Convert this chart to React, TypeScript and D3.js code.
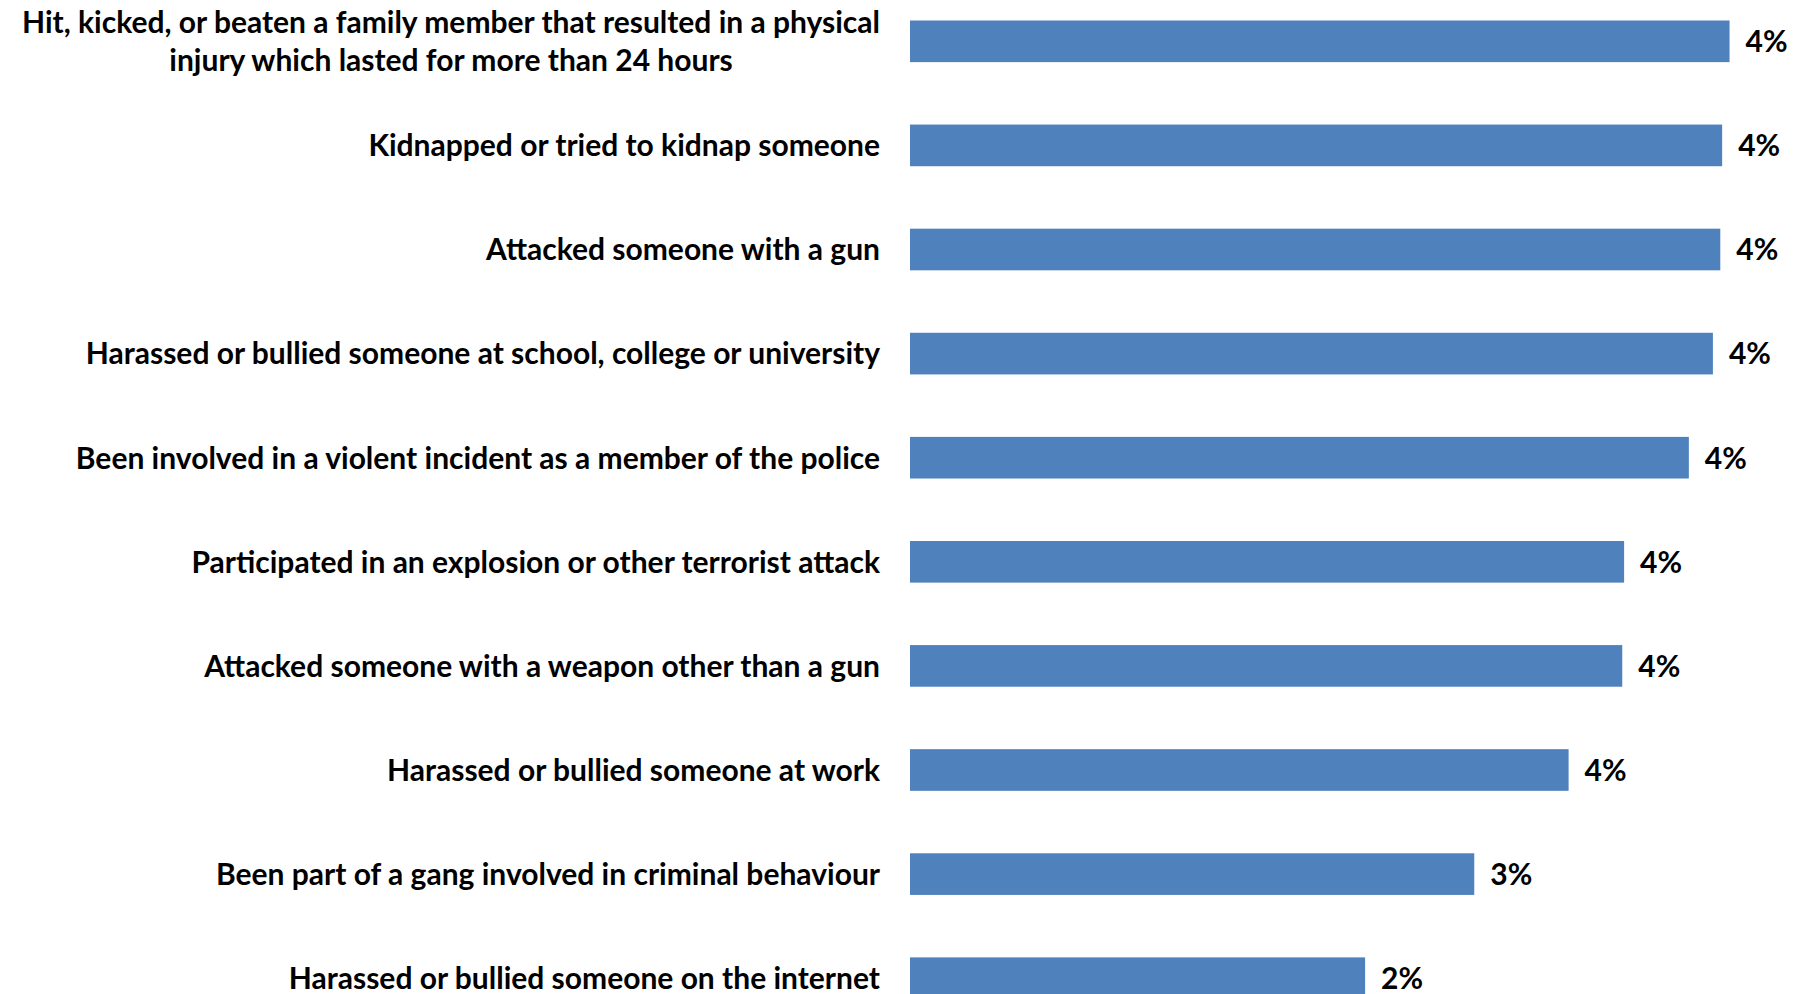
import React, { useEffect, useRef } from "react";
import * as d3 from "d3";

// Category labels (top to bottom), a "\n" splits the two-line label
const categories = [
  "Hit, kicked, or beaten a family member that resulted in a physical\ninjury which lasted for more than 24 hours",
  "Kidnapped or tried to kidnap someone",
  "Attacked someone with a gun",
  "Harassed or bullied someone at school, college or university",
  "Been involved in a violent incident as a member of the police",
  "Participated in an explosion or other terrorist attack",
  "Attacked someone with a weapon other than a gun",
  "Harassed or bullied someone at work",
  "Been part of a gang involved in criminal behaviour",
  "Harassed or bullied someone on the internet",
];

// Percent values
const values = [4.43, 4.39, 4.38, 4.34, 4.21, 3.86, 3.85, 3.56, 3.05, 2.46];

const W = 1800;
const H = 994;
const barColor = "#4F81BD";
const fontFamily = "Lato, 'Open Sans', sans-serif";

const App: React.FC = () => {
  const svgRef = useRef<SVGSVGElement | null>(null);

  useEffect(() => {
    document.body.style.margin = "0";
    const svg = d3.select(svgRef.current);
    svg.selectAll("*").remove();

    const data = categories.map((c, i) => ({ label: c, value: values[i] }));

    const x = d3.scaleLinear().domain([0, 5]).range([910, 910 + 925]);

    const y = d3
      .scaleBand()
      .domain(categories)
      .range([-10.75, 1030.25])
      .paddingInner(0.6)
      .paddingOuter(0.3);

    // bars
    svg
      .selectAll(".bar")
      .data(data)
      .enter()
      .append("rect")
      .attr("class", "bar")
      .attr("x", x(0))
      .attr("y", (d) => y(d.label) as number)
      .attr("width", (d) => x(d.value) - x(0))
      .attr("height", y.bandwidth())
      .attr("fill", barColor);

    // value labels
    svg
      .selectAll(".val")
      .data(data)
      .enter()
      .append("text")
      .attr("class", "val")
      .attr("x", (d) => x(d.value) + 16)
      .attr("y", (d) => (y(d.label) as number) + y.bandwidth() / 2)
      .attr("dy", "0.36em")
      .style("font-family", fontFamily)
      .style("font-weight", "bold")
      .style("font-size", "30px")
      .attr("fill", "#000")
      .text((d) => `${Math.round(d.value)}%`);

    // category labels
    const labelX = 880;
    data.forEach((d) => {
      const cy = (y(d.label) as number) + y.bandwidth() / 2;
      const lines = d.label.split("\n");
      const g = svg.append("text")
        .style("font-family", fontFamily)
        .style("font-weight", "bold")
        .style("font-size", "30px")
        .attr("fill", "#000");
      if (lines.length === 1) {
        g.attr("x", labelX).attr("y", cy).attr("dy", "0.36em")
          .attr("text-anchor", "end").text(lines[0]);
      } else {
        // two lines, centred on each other, block right aligned
        g.attr("text-anchor", "end")
          .append("tspan")
          .attr("x", labelX)
          .attr("y", cy - 19)
          .attr("dy", "0.36em")
          .text(lines[0]);
        const w0 = (g.select("tspan").node() as SVGTSpanElement).getComputedTextLength();
        g.append("tspan")
          .attr("x", labelX - w0 / 2)
          .attr("y", cy + 19)
          .attr("dy", "0.36em")
          .attr("text-anchor", "middle")
          .text(lines[1]);
      }
    });
  }, []);

  return (
    <svg
      ref={svgRef}
      width={W}
      height={H}
      style={{ position: "absolute", left: 0, top: 0, background: "#fff" }}
    />
  );
};

export default App;
